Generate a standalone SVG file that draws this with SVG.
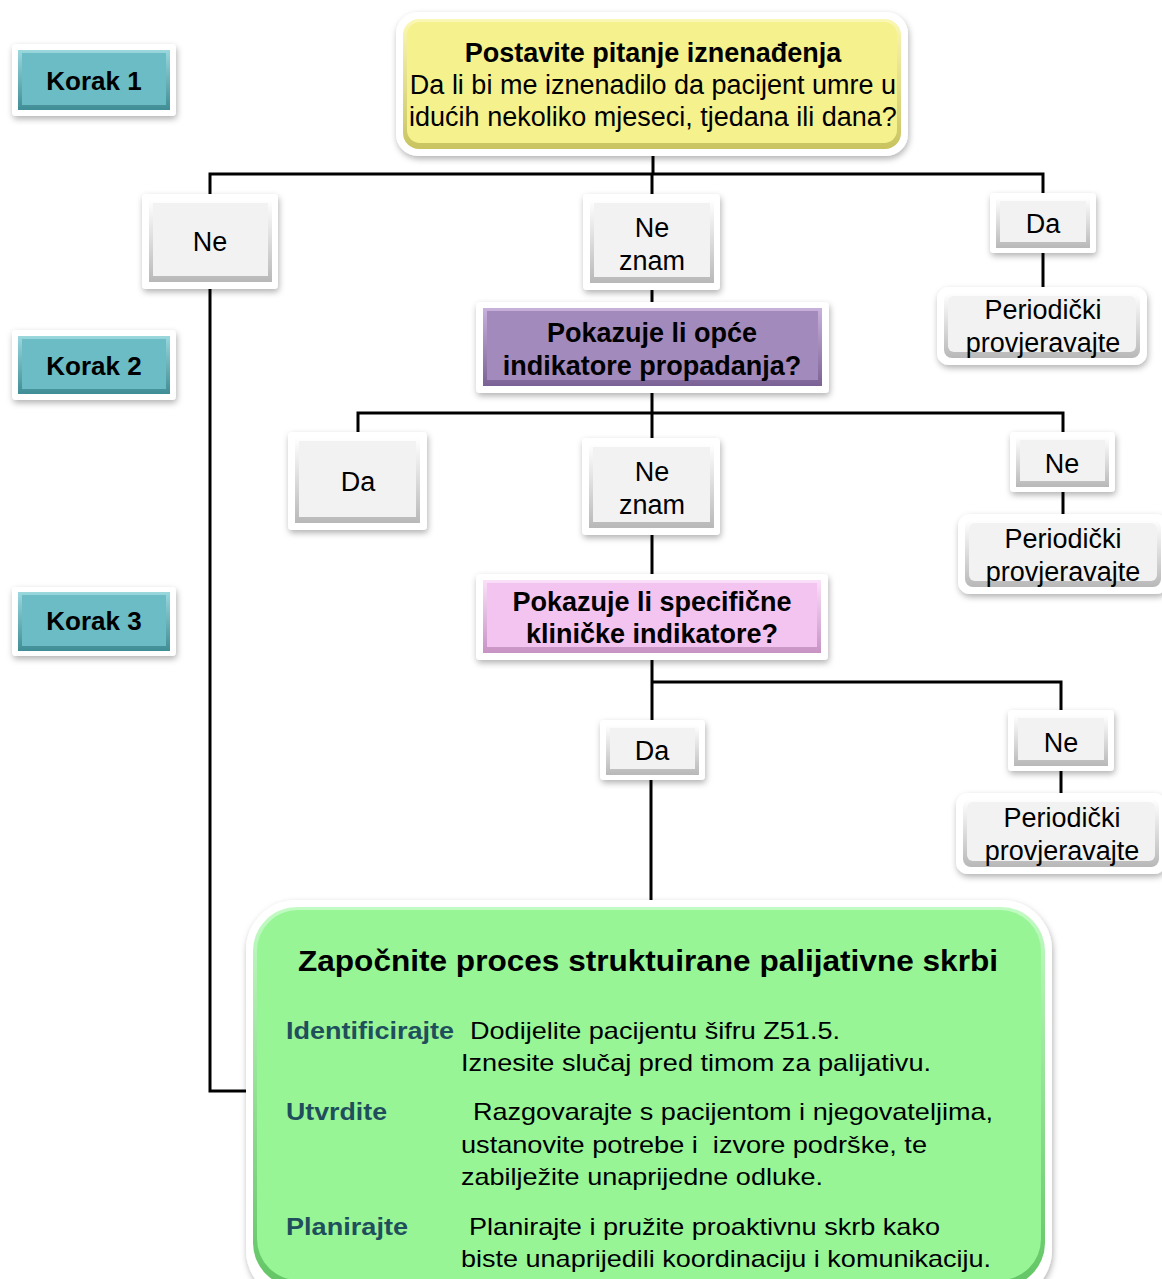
<svg xmlns="http://www.w3.org/2000/svg" width="1162" height="1279" viewBox="0 0 1162 1279">
<defs>
<filter id="sh" x="-10%" y="-10%" width="130%" height="140%">
<feDropShadow dx="1" dy="3" stdDeviation="3" flood-color="#000" flood-opacity="0.3"/>
</filter>
<linearGradient id="gGrey" x1="0" y1="0" x2="0" y2="1"><stop offset="0" stop-color="#ffffff"/><stop offset="1" stop-color="#b8b8b8"/></linearGradient>
<linearGradient id="gTeal" x1="0" y1="0" x2="0" y2="1"><stop offset="0" stop-color="#9ad8de"/><stop offset="1" stop-color="#3f8d95"/></linearGradient>
<linearGradient id="gYel" x1="0" y1="0" x2="0" y2="1"><stop offset="0" stop-color="#fbf8b5"/><stop offset="1" stop-color="#c9c460"/></linearGradient>
<linearGradient id="gPur" x1="0" y1="0" x2="0" y2="1"><stop offset="0" stop-color="#c8b2dc"/><stop offset="1" stop-color="#7b6296"/></linearGradient>
<linearGradient id="gPink" x1="0" y1="0" x2="0" y2="1"><stop offset="0" stop-color="#fbe0fa"/><stop offset="1" stop-color="#c793c4"/></linearGradient>
<linearGradient id="gGreen" x1="0" y1="0" x2="0" y2="1"><stop offset="0" stop-color="#c2fbc3"/><stop offset="1" stop-color="#62c564"/></linearGradient>
</defs>
<style>
.frame{fill:#fff;filter:url(#sh)}
.t{font-family:"Liberation Sans",Arial,sans-serif;fill:#000;text-anchor:middle;font-size:27px}
.b{font-weight:bold}
.k{font-size:26px}
.lbl{font-family:"Liberation Sans",Arial,sans-serif;font-weight:bold;fill:#1f4f5c}
.body{font-family:"Liberation Sans",Arial,sans-serif;fill:#000}
.c{fill:none;stroke:#000;stroke-width:3}
</style>

<g id="connectors">
<path class="c" d="M653,148 V174 M210,196 V174 H1043 V196 M652,174 V196"/>
<path class="c" d="M1043,253 V290"/>
<path class="c" d="M652,290 V305"/>
<path class="c" d="M652,393 V413 M358,434 V413 H1063 V434 M652,413 V440"/>
<path class="c" d="M1063,492 V517"/>
<path class="c" d="M652,535 V576"/>
<path class="c" d="M652,660 V722 M652,682 H1061 V712"/>
<path class="c" d="M1061,771 V796"/>
<path class="c" d="M651,780 V902"/>
<path class="c" d="M210,289 V1091 H252"/>
</g>

<g id="korak1">
<rect class="frame" x="12" y="44" width="164" height="72" rx="4"/>
<rect x="18" y="50" width="152" height="60" fill="url(#gTeal)"/>
<rect x="22" y="53" width="144" height="52" fill="#6bbcc4"/>
<text class="t b k" x="94" y="90">Korak 1</text>
</g>
<g id="korak2">
<rect class="frame" x="12" y="330" width="164" height="70" rx="4"/>
<rect x="18" y="336" width="152" height="58" fill="url(#gTeal)"/>
<rect x="22" y="339" width="144" height="50" fill="#6bbcc4"/>
<text class="t b k" x="94" y="375">Korak 2</text>
</g>
<g id="korak3">
<rect class="frame" x="12" y="587" width="164" height="69" rx="4"/>
<rect x="18" y="592" width="152" height="59" fill="url(#gTeal)"/>
<rect x="22" y="595" width="144" height="51" fill="#6bbcc4"/>
<text class="t b k" x="94" y="630">Korak 3</text>
</g>

<g id="q1">
<rect class="frame" x="396" y="12" width="512" height="144" rx="22"/>
<rect x="403" y="19" width="498" height="130" rx="16" fill="url(#gYel)"/>
<rect x="407" y="22" width="490" height="121" rx="13" fill="#f5f18c"/>
<text class="t b" x="653" y="62">Postavite pitanje iznenađenja</text>
<text class="t" x="653" y="94">Da li bi me iznenadilo da pacijent umre u</text>
<text class="t" x="653" y="126">idućih nekoliko mjeseci, tjedana ili dana?</text>
</g>

<g id="ne1">
<rect class="frame" x="142" y="194" width="136" height="95" rx="4"/>
<rect x="149" y="200" width="123" height="82" fill="url(#gGrey)"/>
<rect x="153" y="203" width="115" height="73" fill="#f2f2f2"/>
<text class="t" x="210" y="251">Ne</text>
</g>

<g id="neznam1">
<rect class="frame" x="583" y="194" width="137" height="96" rx="4"/>
<rect x="590" y="200" width="124" height="83" fill="url(#gGrey)"/>
<rect x="594" y="203" width="116" height="74" fill="#f2f2f2"/>
<text class="t" x="652" y="237">Ne</text>
<text class="t" x="652" y="270">znam</text>
</g>

<g id="da1">
<rect class="frame" x="990" y="193" width="106" height="60" rx="4"/>
<rect x="996" y="198" width="94" height="50" fill="url(#gGrey)"/>
<rect x="1000" y="201" width="86" height="41" fill="#f2f2f2"/>
<text class="t" x="1043" y="233">Da</text>
</g>

<g id="per1">
<rect class="frame" x="937" y="287" width="210" height="78" rx="12"/>
<rect x="944" y="293" width="196" height="65" rx="8" fill="url(#gGrey)"/>
<rect x="948" y="296" width="188" height="56" rx="6" fill="#f2f2f2"/>
<text class="t" x="1043" y="319">Periodički</text>
<text class="t" x="1043" y="352">provjeravajte</text>
</g>

<g id="q2">
<rect class="frame" x="476" y="302" width="353" height="91" rx="4"/>
<rect x="483" y="308" width="339" height="78" fill="url(#gPur)"/>
<rect x="487" y="311" width="331" height="69" fill="#a28abd"/>
<text class="t b" x="652" y="342">Pokazuje li opće</text>
<text class="t b" x="652" y="375">indikatore propadanja?</text>
</g>

<g id="da2">
<rect class="frame" x="288" y="432" width="139" height="98" rx="4"/>
<rect x="295" y="438" width="125" height="85" fill="url(#gGrey)"/>
<rect x="299" y="441" width="117" height="76" fill="#f2f2f2"/>
<text class="t" x="358" y="491">Da</text>
</g>

<g id="neznam2">
<rect class="frame" x="582" y="438" width="138" height="97" rx="4"/>
<rect x="589" y="444" width="125" height="84" fill="url(#gGrey)"/>
<rect x="593" y="447" width="117" height="75" fill="#f2f2f2"/>
<text class="t" x="652" y="481">Ne</text>
<text class="t" x="652" y="514">znam</text>
</g>

<g id="ne2">
<rect class="frame" x="1010" y="432" width="105" height="60" rx="4"/>
<rect x="1016" y="437" width="93" height="50" fill="url(#gGrey)"/>
<rect x="1020" y="440" width="85" height="41" fill="#f2f2f2"/>
<text class="t" x="1062" y="473">Ne</text>
</g>

<g id="per2">
<rect class="frame" x="958" y="514" width="210" height="80" rx="12"/>
<rect x="965" y="520" width="196" height="67" rx="8" fill="url(#gGrey)"/>
<rect x="969" y="523" width="188" height="58" rx="6" fill="#f2f2f2"/>
<text class="t" x="1063" y="548">Periodički</text>
<text class="t" x="1063" y="581">provjeravajte</text>
</g>

<g id="q3">
<rect class="frame" x="476" y="574" width="352" height="86" rx="4"/>
<rect x="483" y="580" width="338" height="73" fill="url(#gPink)"/>
<rect x="487" y="583" width="330" height="64" fill="#f2c4ef"/>
<text class="t b" x="652" y="611">Pokazuje li specifične</text>
<text class="t b" x="652" y="643">kliničke indikatore?</text>
</g>

<g id="da3">
<rect class="frame" x="600" y="720" width="105" height="60" rx="4"/>
<rect x="606" y="725" width="93" height="50" fill="url(#gGrey)"/>
<rect x="610" y="728" width="85" height="41" fill="#f2f2f2"/>
<text class="t" x="652" y="760">Da</text>
</g>

<g id="ne3">
<rect class="frame" x="1008" y="710" width="106" height="61" rx="4"/>
<rect x="1014" y="715" width="94" height="51" fill="url(#gGrey)"/>
<rect x="1018" y="718" width="86" height="42" fill="#f2f2f2"/>
<text class="t" x="1061" y="752">Ne</text>
</g>

<g id="per3">
<rect class="frame" x="956" y="793" width="210" height="81" rx="12"/>
<rect x="963" y="799" width="196" height="68" rx="8" fill="url(#gGrey)"/>
<rect x="967" y="802" width="188" height="59" rx="6" fill="#f2f2f2"/>
<text class="t" x="1062" y="827">Periodički</text>
<text class="t" x="1062" y="860">provjeravajte</text>
</g>

<g id="start">
<rect class="frame" x="246" y="900" width="806" height="400" rx="50"/>
<rect x="253" y="907" width="792" height="380" rx="44" fill="url(#gGreen)"/>
<rect x="257" y="910" width="784" height="370" rx="41" fill="#97f596"/>
<text class="t b" x="648" y="971" style="font-size:29px" textLength="700" lengthAdjust="spacingAndGlyphs">Započnite proces struktuirane palijativne skrbi</text>
<text class="lbl" x="286" y="1039" font-size="24" textLength="168" lengthAdjust="spacingAndGlyphs">Identificirajte</text>
<text class="body" x="470" y="1039" font-size="24" textLength="370" lengthAdjust="spacingAndGlyphs">Dodijelite pacijentu šifru Z51.5.</text>
<text class="body" x="461" y="1071" font-size="24" textLength="470" lengthAdjust="spacingAndGlyphs">Iznesite slučaj pred timom za palijativu.</text>
<text class="lbl" x="286" y="1120" font-size="24" textLength="101" lengthAdjust="spacingAndGlyphs">Utvrdite</text>
<text class="body" x="473" y="1120" font-size="24" textLength="520" lengthAdjust="spacingAndGlyphs">Razgovarajte s pacijentom i njegovateljima,</text>
<text class="body" x="461" y="1153" font-size="24" textLength="466" lengthAdjust="spacingAndGlyphs" xml:space="preserve">ustanovite potrebe i  izvore podrške, te</text>
<text class="body" x="461" y="1185" font-size="24" textLength="362" lengthAdjust="spacingAndGlyphs">zabilježite unaprijedne odluke.</text>
<text class="lbl" x="286" y="1235" font-size="24" textLength="122" lengthAdjust="spacingAndGlyphs">Planirajte</text>
<text class="body" x="469" y="1235" font-size="24" textLength="471" lengthAdjust="spacingAndGlyphs">Planirajte i pružite proaktivnu skrb kako</text>
<text class="body" x="461" y="1267" font-size="24" textLength="530" lengthAdjust="spacingAndGlyphs">biste unaprijedili koordinaciju i komunikaciju.</text>
</g>
</svg>
